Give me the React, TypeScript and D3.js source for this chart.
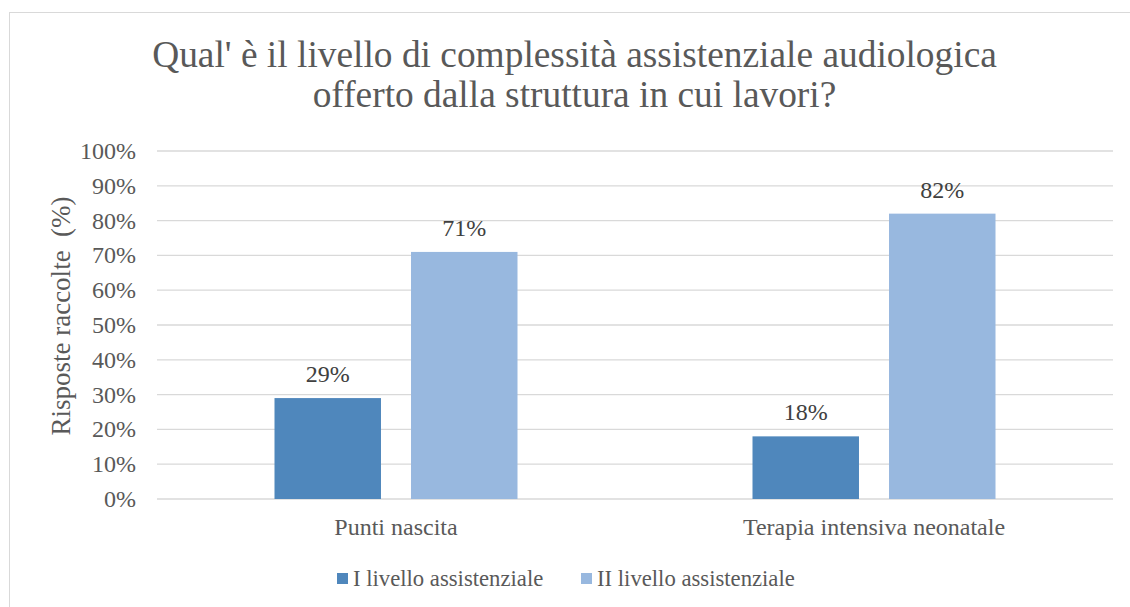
import React from "react";
import * as d3 from "d3";

const categories = ["Punti nascita", "Terapia intensiva neonatale"];
const seriesNames = ["I livello assistenziale", "II livello assistenziale"];
const seriesI = [29, 18];
const seriesII = [71, 82];
const yTicks = [0, 10, 20, 30, 40, 50, 60, 70, 80, 90, 100];
const titleLines = [
  "Qual' è il livello di complessità assistenziale audiologica",
  "offerto dalla struttura in cui lavori?",
];
const yAxisTitle = "Risposte raccolte  (%)";

const colors = ["#4f87bc", "#98b8df"];
const FONT = "'Liberation Serif', 'Times New Roman', serif";
const TXT = "#595959";

export default function App() {
  const W = 1130, H = 607;
  const left = 157, right = 1113, top = 151, bottom = 499;
  const y = d3.scaleLinear().domain([0, 100]).range([bottom, top]);
  const x0 = d3.scaleBand().domain(categories).range([left, right]).paddingInner(0).paddingOuter(0);
  const groupW = 243;
  const x1 = d3.scaleBand().domain(seriesNames).range([0, groupW]).paddingInner(0.22).paddingOuter(0);
  const series = [seriesI, seriesII];

  return (
    <svg width={W} height={H} style={{ position: "absolute", left: 0, top: 0, display: "block" }}>
      <rect x={0} y={0} width={W} height={H} fill="#fff" />
      <rect x={9.5} y={12.5} width={W + 20} height={H + 20} fill="#fff" stroke="#d9d9d9" strokeWidth={1} />
      {titleLines.map((t, i) => (
        <text key={i} x={574.5} y={67 + i * 40} textAnchor="middle" fontFamily={FONT} fontSize={37.4} fill={TXT}>
          {t}
        </text>
      ))}
      {yTicks.map((t) => (
        <g key={t}>
          <line x1={left} x2={right} y1={y(t)} y2={y(t)} stroke="#d9d9d9" strokeWidth={1.3} />
          <text x={136} y={y(t) + 8} textAnchor="end" fontFamily={FONT} fontSize={24} fill={TXT}>
            {t}%
          </text>
        </g>
      ))}
      <text
        transform={`translate(70, 316) rotate(-90)`}
        textAnchor="middle"
        fontFamily={FONT}
        fontSize={27}
        fill={TXT}
        style={{ whiteSpace: "pre" }}
        xmlSpace="preserve"
      >
        {yAxisTitle}
      </text>
      {categories.map((c, ci) => {
        const gx = (x0(c) as number) + (x0.bandwidth() - groupW) / 2;
        return (
          <g key={c}>
            {seriesNames.map((s, si) => {
              const v = series[si][ci];
              const bx = gx + (x1(s) as number);
              return (
                <g key={s}>
                  <rect x={bx} y={y(v)} width={x1.bandwidth()} height={bottom - y(v)} fill={colors[si]} />
                  <text x={bx + x1.bandwidth() / 2} y={y(v) - 16} textAnchor="middle" fontFamily={FONT} fontSize={24} fill="#404040">
                    {v}%
                  </text>
                </g>
              );
            })}
            <text x={(x0(c) as number) + x0.bandwidth() / 2} y={535} textAnchor="middle" fontFamily={FONT} fontSize={24} fill={TXT}>
              {c}
            </text>
          </g>
        );
      })}
      {seriesNames.map((s, si) => {
        const lx = [337, 581][si];
        return (
          <g key={s}>
            <rect x={lx} y={573} width={11} height={11} fill={colors[si]} />
            <text x={lx + 16} y={586} fontFamily={FONT} fontSize={22.7} fill={TXT}>
              {s}
            </text>
          </g>
        );
      })}
    </svg>
  );
}
